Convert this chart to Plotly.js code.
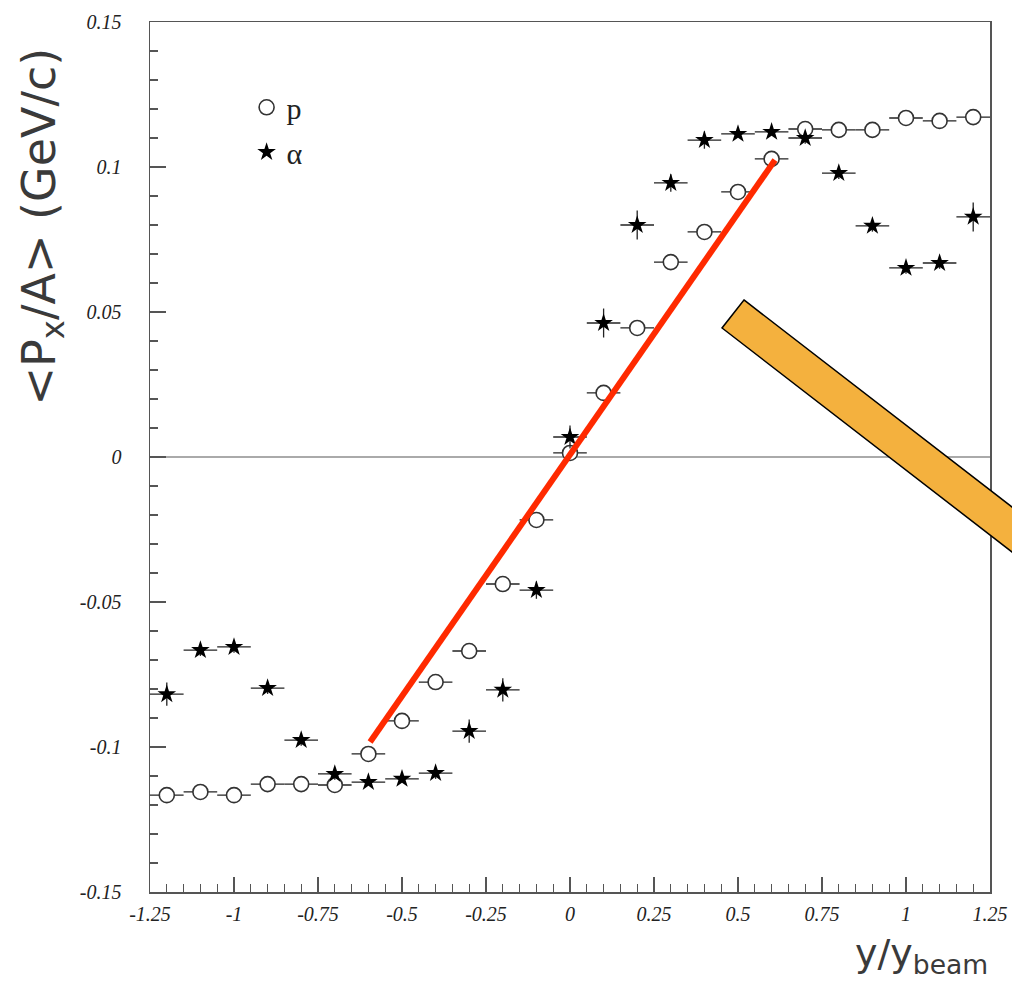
<!DOCTYPE html>
<html>
<head>
<meta charset="utf-8">
<script src="https://cdn.plot.ly/plotly-3.0.1.min.js"></script>
<style>html,body{margin:0;padding:0;background:#fff;}#chart{width:1012px;height:985px;}</style>
</head>
<body>
<div id="chart"></div>
<script>
// rapidity bins (y / y_beam)
const rapidity = [-1.2,-1.1,-1.0,-0.9,-0.8,-0.7,-0.6,-0.5,-0.4,-0.3,-0.2,-0.1,0.0,0.1,0.2,0.3,0.4,0.5,0.6,0.7,0.8,0.9,1.0,1.1,1.2];
const binHalfWidth = [0.05,0.05,0.05,0.05,0.05,0.05,0.05,0.05,0.05,0.05,0.05,0.05,0.05,0.05,0.05,0.05,0.05,0.05,0.05,0.05,0.05,0.05,0.05,0.05,0.05];
// <Px/A> protons
const protonPx = [-0.1166,-0.1155,-0.1166,-0.1128,-0.1128,-0.1131,-0.1024,-0.0910,-0.0776,-0.0669,-0.0438,-0.0217,0.0014,0.0221,0.0445,0.0672,0.0776,0.0914,0.1028,0.1131,0.1128,0.1128,0.1169,0.1159,0.1172];
// <Px/A> alphas
const alphaPx = [-0.0818,-0.0666,-0.0655,-0.0797,-0.0976,-0.1093,-0.1121,-0.1110,-0.1090,-0.0945,-0.0803,-0.0459,0.0069,0.0462,0.0800,0.0945,0.1093,0.1114,0.1121,0.1100,0.0979,0.0797,0.0652,0.0669,0.0828];
const alphaErr = [0.004,0.002,0.002,0.002,0.002,0.002,0.001,0.001,0.002,0.004,0.004,0.003,0.004,0.005,0.005,0.003,0.003,0.001,0.001,0.002,0.002,0.002,0.002,0.002,0.005];
// ticks
const xTickVals = [-1.25,-1,-0.75,-0.5,-0.25,0,0.25,0.5,0.75,1,1.25];
const xTickText = ['-1.25','-1','-0.75','-0.5','-0.25','0','0.25','0.5','0.75','1','1.25'];
const yTickVals = [-0.15,-0.1,-0.05,0,0.05,0.1,0.15];
const yTickText = ['-0.15','-0.1','-0.05','0','0.05','0.1','0.15'];
// red guide line endpoints (data units)
const guideX = [-0.595, 0.61];
const guideY = [-0.0983, 0.1024];

const tickFont = {family:'Liberation Serif, serif', size:20, style:'italic', color:'#222'};

const traces = [
  {
    x: rapidity, y: protonPx, type:'scatter', mode:'markers', name:'p', legend:'legend',
    error_x:{type:'data', array:binHalfWidth, visible:true, width:0, thickness:1.3, color:'#222'},
    marker:{symbol:'circle', size:15, color:'#fff', line:{color:'#333', width:1.6}}
  },
  {
    x: rapidity, y: alphaPx, type:'scatter', mode:'markers', name:'α', legend:'legend2',
    error_x:{type:'data', array:binHalfWidth, visible:true, width:0, thickness:1.3, color:'#222'},
    error_y:{type:'data', array:alphaErr, visible:true, width:0, thickness:1.3, color:'#222'},
    marker:{symbol:'star', size:14, color:'#000', line:{width:0}}
  }
];

const layout = {
  width:1012, height:985,
  margin:{l:150, r:22, t:22, b:93},
  paper_bgcolor:'#fff', plot_bgcolor:'#fff',
  showlegend:true,
  legend:{x:0.115, y:0.902, xanchor:'left', yanchor:'middle', bgcolor:'rgba(0,0,0,0)',
          font:{family:'Liberation Serif, serif', size:30, color:'#222'}},
  legend2:{x:0.115, y:0.8506, xanchor:'left', yanchor:'middle', bgcolor:'rgba(0,0,0,0)',
          font:{family:'Liberation Serif, serif', size:30, color:'#222'}},
  xaxis:{
    range:[-1.25,1.25], tickmode:'array', tickvals:xTickVals, ticktext:xTickText,
    ticks:'inside', ticklen:15, tickwidth:1.3, tickcolor:'#555',
    minor:{tickmode:'linear', tick0:0, dtick:0.05, ticks:'inside', ticklen:8, tickwidth:1.2, tickcolor:'#555', showgrid:false},
    showgrid:false, zeroline:false, showline:true, linecolor:'#555', linewidth:1.5, mirror:true,
    tickfont:tickFont, ticklabelstandoff:3, fixedrange:true
  },
  yaxis:{
    range:[-0.15,0.15], tickmode:'array', tickvals:yTickVals, ticktext:yTickText,
    ticks:'inside', ticklen:16, tickwidth:1.3, tickcolor:'#555',
    minor:{tickmode:'linear', tick0:0, dtick:0.01, ticks:'inside', ticklen:8, tickwidth:1.2, tickcolor:'#555', showgrid:false},
    showgrid:false, zeroline:true, zerolinecolor:'#aaa', zerolinewidth:1.5,
    showline:true, linecolor:'#555', linewidth:1.5, mirror:true,
    tickfont:tickFont, ticklabelstandoff:23, fixedrange:true
  },
  shapes:[
    {type:'line', xref:'x', yref:'y', x0:guideX[0], y0:guideY[0], x1:guideX[1], y1:guideY[1],
     line:{color:'#ff2a00', width:6}},
    {type:'path', xref:'paper', yref:'paper',
     path:'M 0.7071 0.6805 L 1.131 0.3644 L 1.1048 0.3322 L 0.681 0.6483 Z',
     fillcolor:'#f4b13e', line:{color:'#000', width:1.5}, layer:'above'}
  ],
  annotations:[
    {xref:'paper', yref:'paper', x:-0.1286, y:0.765, xanchor:'center', yanchor:'middle', textangle:-90,
     showarrow:false, text:'&lt;P<sub>x</sub>/A&gt; (GeV/c)',
     font:{family:'DejaVu Sans, sans-serif', size:46, color:'#3a3a3a'}},
    {xref:'paper', yref:'paper', x:1.0, y:-0.073, xanchor:'right', yanchor:'middle',
     showarrow:false, text:'y/y<sub>beam</sub>',
     font:{family:'DejaVu Sans, sans-serif', size:38, color:'#3a3a3a'}}
  ]
};

Plotly.newPlot('chart', traces, layout, {displayModeBar:false, staticPlot:true});
</script>
</body>
</html>
